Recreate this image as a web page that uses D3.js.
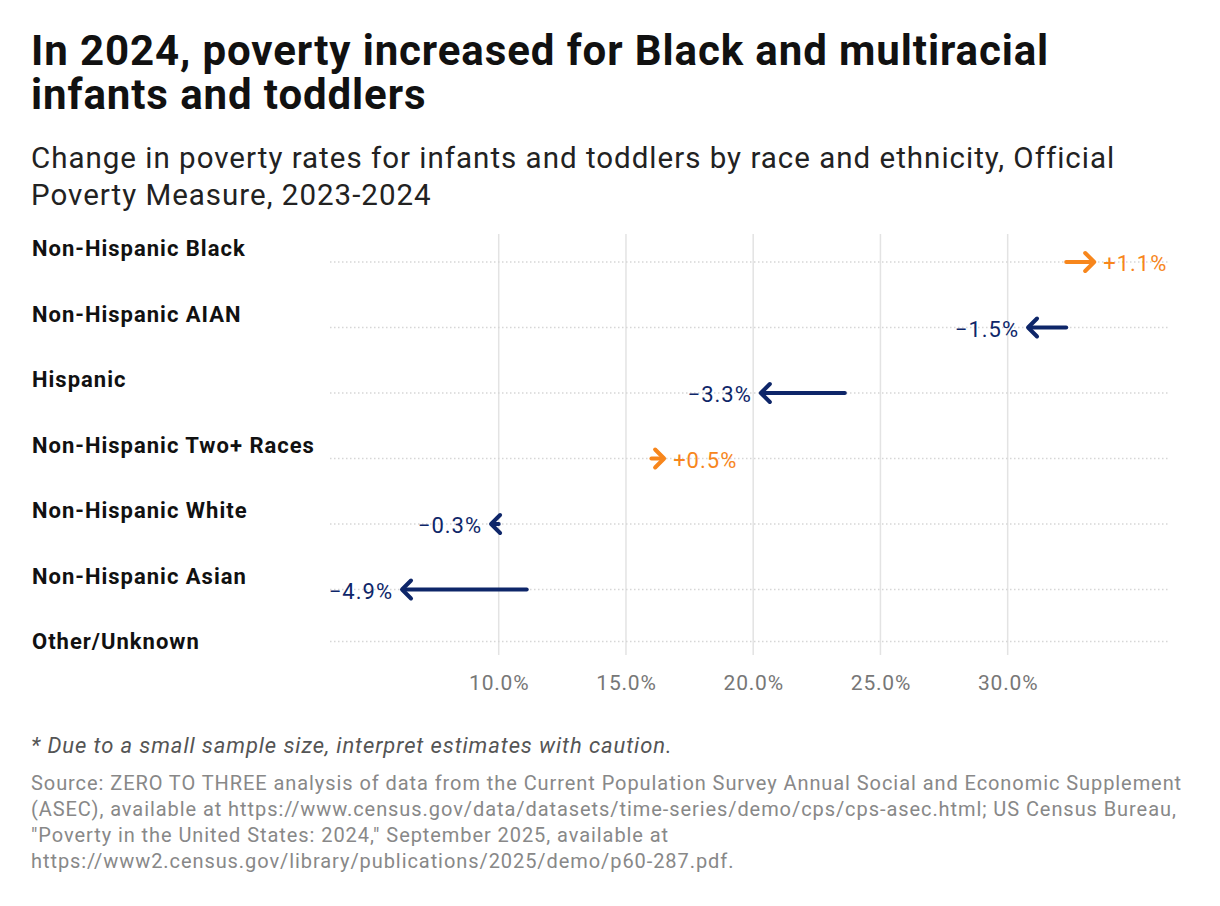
<!DOCTYPE html>
<html>
<head>
<meta charset="utf-8">
<script src="https://cdn.jsdelivr.net/npm/d3@7"></script>
<style>
  body { margin: 0; background: #fff; }
  svg { font-family: Roboto, "Noto Sans", sans-serif; }
</style>
</head>
<body>
<svg id="chart" width="1220" height="906"></svg>
<script>
// categories top to bottom
const groups = ["Non-Hispanic Black", "Non-Hispanic AIAN", "Hispanic", "Non-Hispanic Two+ Races",
  "Non-Hispanic White", "Non-Hispanic Asian", "Other/Unknown"];
// poverty rate 2023 and 2024 (percent), null = no estimate drawn
const rate2023 = [32.3, 32.3, 23.6, 16.0, 10.0, 11.1, null];
const rate2024 = [33.4, 30.8, 20.3, 16.5, 9.7, 6.2, null];
const changeLabels = ["+1.1%", "\u22121.5%", "\u22123.3%", "+0.5%", "\u22120.3%", "\u22124.9%", ""];
const tickValues = [10, 15, 20, 25, 30];

const svg = d3.select("#chart");
const up = "#f7861c", down = "#0e2669";

// title + subtitle (one text block each, wrapped with tspans)
const title = svg.append("text").attr("font-weight", 700).attr("font-size", 42)
  .attr("letter-spacing", 0.9).attr("fill", "#111");
title.append("tspan").attr("x", 31).attr("y", 65).text("In 2024, poverty increased for Black and multiracial");
title.append("tspan").attr("x", 31).attr("y", 109).text("infants and toddlers");
const sub = svg.append("text").attr("font-size", 29.5).attr("letter-spacing", 1).attr("fill", "#222");
sub.append("tspan").attr("x", 31).attr("y", 168).text("Change in poverty rates for infants and toddlers by race and ethnicity, Official");
sub.append("tspan").attr("x", 31).attr("y", 205).text("Poverty Measure, 2023-2024");

// scales
const x = d3.scaleLinear().domain([3.37, 36.3]).range([330, 1168]);
const yLabel = d3.scalePoint().domain(groups).range([248, 641]);
// row line sits a bit below the label; last row line stops at chart bottom
const yRow = g => Math.min(yLabel(g) + 14, 641.5);

// vertical grid
svg.append("g").selectAll("line").data(tickValues).join("line")
  .attr("x1", d => x(d)).attr("x2", d => x(d))
  .attr("y1", 234).attr("y2", 655)
  .attr("stroke", "#e3e3e3").attr("stroke-width", 1.5);

// axis labels
const xAxis = d3.axisBottom(x).tickValues(tickValues).tickSize(0).tickPadding(0)
  .tickFormat(d => d.toFixed(1) + "%");
const ax = svg.append("g").attr("transform", "translate(0,675)").call(xAxis);
ax.select(".domain").remove();
ax.selectAll("text").attr("font-size", 21).attr("letter-spacing", 0.8)
  .attr("fill", "#777").attr("font-family", "Roboto, sans-serif");

// dotted row lines
svg.append("g").selectAll("line").data(groups).join("line")
  .attr("x1", 330).attr("x2", 1168)
  .attr("y1", d => yRow(d)).attr("y2", d => yRow(d))
  .attr("stroke", "#d6d6d6").attr("stroke-width", 1.3).attr("stroke-dasharray", "1.5,2.5");

// row labels
svg.append("g").selectAll("text").data(groups).join("text")
  .attr("x", 32).attr("y", d => yLabel(d) + 8)
  .attr("font-size", 22).attr("letter-spacing", 1).attr("font-weight", 700).attr("fill", "#111")
  .text(d => d);

// arrows
const rows = groups.map((g, i) => ({ g, a: rate2023[i], b: rate2024[i], lab: changeLabels[i] }))
  .filter(d => d.a != null);
const ag = svg.append("g");
rows.forEach(d => {
  const y = yRow(d.g);
  const x0 = x(d.a), x1 = x(d.b);
  const dir = x1 > x0 ? 1 : -1;
  const col = dir > 0 ? up : down;
  ag.append("line").attr("x1", x0).attr("x2", x1 - dir * 2).attr("y1", y).attr("y2", y)
    .attr("stroke", col).attr("stroke-width", 4).attr("stroke-linecap", "round");
  ag.append("path")
    .attr("d", `M${x1 - dir * 9},${y - 9}L${x1},${y}L${x1 - dir * 9},${y + 9}`)
    .attr("fill", "none").attr("stroke", col).attr("stroke-width", 4)
    .attr("stroke-linecap", "round").attr("stroke-linejoin", "round");
  ag.append("text").attr("x", x1 + dir * 9).attr("y", y + 9)
    .attr("text-anchor", dir > 0 ? "start" : "end")
    .attr("font-size", 22).attr("letter-spacing", 1).attr("fill", col).text(d.lab);
});

// notes
svg.append("text").attr("x", 31).attr("y", 753).attr("font-size", 22).attr("letter-spacing", 0.9)
  .attr("font-style", "italic")
  .attr("fill", "#555").text("* Due to a small sample size, interpret estimates with caution.");
const src = [
  "Source: ZERO TO THREE analysis of data from the Current Population Survey Annual Social and Economic Supplement",
  "(ASEC), available at https://www.census.gov/data/datasets/time-series/demo/cps/cps-asec.html; US Census Bureau,",
  "\"Poverty in the United States: 2024,\" September 2025, available at",
  "https://www2.census.gov/library/publications/2025/demo/p60-287.pdf."
];
const srcText = svg.append("text").attr("font-size", 20).attr("letter-spacing", 0.93).attr("fill", "#888");
srcText.selectAll("tspan").data(src).join("tspan")
  .attr("x", 31).attr("y", (d, i) => 790 + i * 26).text(d => d);
</script>
</body>
</html>
